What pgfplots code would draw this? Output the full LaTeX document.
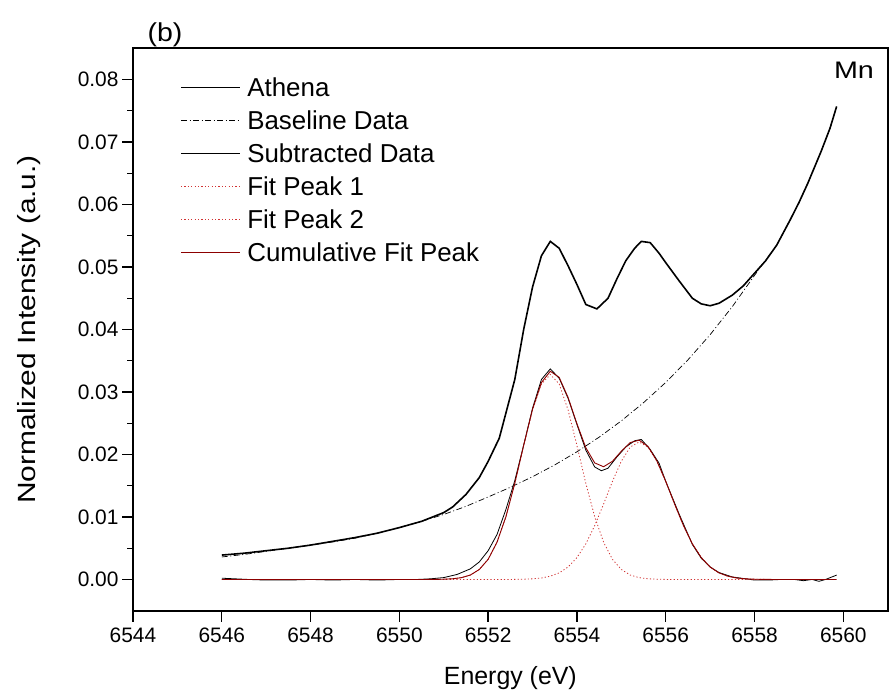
\documentclass[border=0pt]{standalone}
\usepackage{pgfplots}
\pgfplotsset{compat=1.18}
\usepackage{fontspec}
\setmainfont{Liberation Sans}
\definecolor{fitred}{rgb}{0.82,0.20,0.20}
\definecolor{cumred}{rgb}{0.55,0.0,0.0}
\begin{document}
\begin{tikzpicture}
\begin{axis}[
  scale only axis,
  width=754.7bp, height=562.4bp,
  xmin=6544, xmax=6561,
  ymin=-0.005, ymax=0.085,
  clip mode=individual,
  axis background/.style={draw=black, line width=1.8bp},
  axis line style={line width=1.8bp, black},
  xtick={6544,6546,...,6560},
  ytick={0,0.01,...,0.08},
  minor x tick num=1,
  minor y tick num=1,
  xtick pos=bottom, ytick pos=left,
  tick align=outside,
  major tick length=11bp,
  minor tick length=6bp,
  every tick/.style={line width=1.4bp, black},
  tick label style={font=\fontsize{21}{25}\selectfont},
  /pgf/number format/assume math mode=true,
  xticklabel style={/pgf/number format/set thousands separator={}, yshift=-3bp},
  yticklabel style={/pgf/number format/fixed, /pgf/number format/precision=2, /pgf/number format/fixed zerofill},
  scaled y ticks=false,
  xlabel={Energy (eV)},
  ylabel={\scalebox{1.2}[1]{Normalized Intensity (a.u.)}},
  label style={font=\fontsize{25}{30}\selectfont},
  xlabel style={at={(axis description cs:0.5,-0.1197)}, anchor=center},
  ylabel style={at={(axis description cs:-0.1371,0.5)}, anchor=center},
  legend cell align=left,
  legend image code/.code={\draw[#1] (0bp,8.5bp) -- (59bp,8.5bp);},
  legend style={draw=none, fill=none, inner sep=0pt, at={(axis description cs:0.0623,0.949)}, anchor=north west,
    font=\fontsize{26}{30}\selectfont, row sep=8bp, column sep=6.5bp,
    nodes={inner sep=0pt, text height=19bp, text depth=6bp, anchor=base west}},
]
% Athena
\addplot[black, line width=1.6bp] coordinates {
(6546.0,0.0039) (6546.5,0.0042) (6547.0,0.0046) (6547.5,0.0050) (6548.0,0.0055)
(6548.5,0.0061) (6549.0,0.0067) (6549.5,0.0074) (6550.0,0.0083) (6550.5,0.0093)
(6551.0,0.0107) (6551.2,0.0116) (6551.5,0.0136) (6551.8,0.0163) (6552.0,0.0189)
(6552.25,0.0226) (6552.6,0.0320) (6552.8,0.0400) (6553.0,0.0468) (6553.2,0.0518)
(6553.4,0.0541) (6553.6,0.0530) (6553.8,0.0502) (6554.0,0.0472) (6554.2,0.0440)
(6554.45,0.0433) (6554.7,0.0450) (6554.9,0.0481) (6555.1,0.0510) (6555.3,0.0530)
(6555.45,0.0541) (6555.65,0.0539) (6555.85,0.0522) (6556.0,0.0507) (6556.3,0.0478)
(6556.6,0.0450) (6556.8,0.0441) (6557.0,0.0438) (6557.2,0.0442) (6557.5,0.0455)
(6557.75,0.0470) (6558.0,0.0490) (6558.25,0.0510) (6558.5,0.0535) (6558.8,0.0575)
(6559.0,0.0603) (6559.2,0.0634) (6559.5,0.0685) (6559.7,0.0722) (6559.85,0.0757)
};
\addlegendentry{Athena}
% Baseline
\addplot[black, line width=0.7bp, dash pattern=on 6bp off 2.5bp on 1bp off 2.5bp] coordinates {
(6546.0,0.0036) (6546.5,0.0040) (6547.0,0.0045) (6547.5,0.0050) (6548.0,0.0055)
(6548.5,0.0060) (6549.0,0.0066) (6549.5,0.0074) (6550.0,0.0083) (6550.5,0.0093)
(6551.0,0.0104) (6551.5,0.0117) (6552.0,0.0132) (6552.5,0.01475) (6553.0,0.01644)
(6553.5,0.01833) (6554.0,0.02043) (6554.5,0.02277) (6555.0,0.02538) (6555.5,0.02829)
(6556.0,0.03153) (6556.5,0.03514) (6557.0,0.03917) (6557.5,0.04366) (6558.0,0.04866)
(6558.5,0.0535) (6558.8,0.0575) (6559.0,0.0603) (6559.2,0.0634) (6559.5,0.0685)
(6559.7,0.0722) (6559.85,0.0757)
};
\addlegendentry{Baseline Data}
% Subtracted
\addplot[black, line width=0.8bp] coordinates {
(6546.0,0.0002) (6546.3,0.0001) (6546.6,0.0000) (6547.0,-0.0001) (6547.5,-0.0001)
(6548.0,0.0000) (6548.5,-0.0001) (6549.0,0.0000) (6549.5,-0.0001) (6550.0,0.0000)
(6550.4,0.0000) (6550.7,0.0001) (6551.0,0.0003) (6551.3,0.0008) (6551.6,0.0017)
(6551.8,0.0028) (6552.0,0.0046) (6552.2,0.0072) (6552.4,0.0112) (6552.6,0.0158)
(6552.8,0.0215) (6553.0,0.0274) (6553.2,0.0320) (6553.4,0.0337) (6553.6,0.0322)
(6553.8,0.0290) (6554.0,0.0248) (6554.2,0.0207) (6554.4,0.0180) (6554.55,0.0174)
(6554.7,0.0178) (6554.9,0.0196) (6555.1,0.0212) (6555.3,0.0222) (6555.45,0.0224)
(6555.65,0.0208) (6555.85,0.0186) (6556.0,0.0157) (6556.3,0.0105) (6556.6,0.0056)
(6556.8,0.0034) (6557.0,0.0020) (6557.2,0.0011) (6557.5,0.0004) (6557.8,0.0001)
(6558.0,-0.0001) (6558.3,-0.0001) (6558.6,0.0000) (6558.9,0.0000) (6559.1,-0.0002)
(6559.3,0.0000) (6559.45,-0.0003) (6559.6,0.0000) (6559.85,0.0007)
};
\addlegendentry{Subtracted Data}
% Fit Peak 1
\addplot[fitred, line width=0.8bp, dash pattern=on 1.2bp off 2.2bp] coordinates {
(6546.0,0) (6550.6,0) (6550.8,0.00001) (6551.0,0.00004) (6551.2,0.00011) (6551.4,0.00029)
(6551.6,0.00071) (6551.8,0.00159) (6552.0,0.00322) (6552.2,0.00597) (6552.4,0.01004)
(6552.6,0.01538) (6552.8,0.02142) (6553.0,0.02714) (6553.2,0.03128) (6553.4,0.0328)
(6553.6,0.03128) (6553.8,0.02714) (6554.0,0.02142) (6554.2,0.01538) (6554.4,0.01004)
(6554.6,0.00597) (6554.8,0.00322) (6555.0,0.00159) (6555.2,0.00071) (6555.4,0.00029)
(6555.6,0.00011) (6555.8,0.00004) (6556.0,0.00001) (6556.2,0) (6559.85,0)
};
\addlegendentry{Fit Peak 1}
% Fit Peak 2
\addplot[fitred, line width=0.8bp, dash pattern=on 1.2bp off 2.2bp] coordinates {
(6546.0,0) (6552.4,0) (6552.6,0.00001) (6552.8,0.00004) (6553.0,0.00010) (6553.2,0.00023)
(6553.4,0.00052) (6553.6,0.00105) (6553.8,0.00199) (6554.0,0.00350) (6554.2,0.00570)
(6554.4,0.00861) (6554.6,0.01207) (6554.8,0.01569) (6555.0,0.01893) (6555.2,0.02119)
(6555.4,0.0220) (6555.6,0.02119) (6555.8,0.01893) (6556.0,0.01569) (6556.2,0.01207)
(6556.4,0.00861) (6556.6,0.00570) (6556.8,0.00350) (6557.0,0.00199) (6557.2,0.00105)
(6557.4,0.00052) (6557.6,0.00023) (6557.8,0.00010) (6558.0,0.00004) (6558.2,0.00001)
(6558.4,0) (6559.85,0)
};
\addlegendentry{Fit Peak 2}
% Cumulative
\addplot[cumred, line width=0.9bp] coordinates {
(6546.0,0) (6550.6,0) (6550.8,0.00001) (6551.0,0.00004) (6551.2,0.00011) (6551.4,0.00029)
(6551.6,0.00071) (6551.8,0.00159) (6552.0,0.00322) (6552.2,0.00597) (6552.4,0.01004)
(6552.6,0.01539) (6552.8,0.02146) (6553.0,0.02724) (6553.2,0.03151) (6553.4,0.03332)
(6553.6,0.03233) (6553.8,0.02913) (6554.0,0.02492) (6554.2,0.02108) (6554.4,0.01865)
(6554.6,0.01804) (6554.8,0.01891) (6555.0,0.02052) (6555.2,0.02190) (6555.4,0.02229)
(6555.6,0.02130) (6555.8,0.01897) (6556.0,0.01570) (6556.2,0.01207) (6556.4,0.00861)
(6556.6,0.00570) (6556.8,0.00350) (6557.0,0.00199) (6557.2,0.00105) (6557.4,0.00052)
(6557.6,0.00023) (6557.8,0.00010) (6558.0,0.00004) (6558.2,0.00001) (6558.4,0)
(6559.85,0)
};
\addlegendentry{Cumulative Fit Peak}
\node[font=\fontsize{26}{30}\selectfont] at (axis description cs:0.0424,1.0237) {\scalebox{1.1}[1]{(b)}};
\node[font=\fontsize{24}{28}\selectfont] at (axis description cs:0.9553,0.9614) {\scalebox{1.2}[1]{Mn}};
\end{axis}
\pgfresetboundingbox
\path[use as bounding box] (-133bp,-84.3bp) rectangle (756bp,610.7bp);
\end{tikzpicture}
\end{document}
